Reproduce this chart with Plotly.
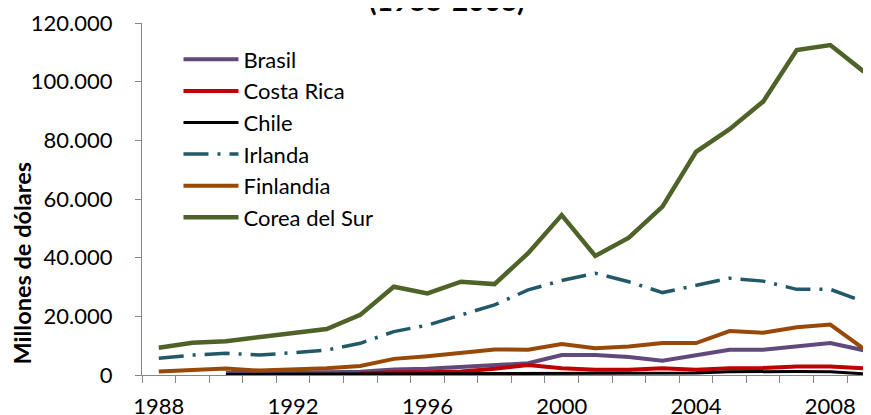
import plotly.graph_objects as go

years = list(range(1988, 2010))

brasil = [None, None, 700, 700, 800, 900, 1100, 1900, 2100, 2700, 3500, 4000,
          6800, 6800, 6100, 4900, 6700, 8600, 8600, 9700, 10900, 8400]
costa_rica = [None, None, None, None, None, None, 400, 900, 900, 1200, 2100, 3400,
              2300, 1800, 1800, 2300, 1800, 2300, 2400, 2900, 2900, 2300]
chile = [None, None, 200, 250, 300, 350, 400, 450, 450, 500, 500, 500,
         550, 550, 600, 600, 700, 1100, 1200, 1200, 1100, 400]
irlanda = [5700, 6800, 7400, 6800, 7600, 8500, 10800, 14800, 17000, 20500, 23900, 29000,
           32200, 34700, 31800, 28100, 30700, 33000, 32000, 29200, 29200, 25000]
finlandia = [1200, 1800, 2200, 1500, 1900, 2300, 3100, 5500, 6400, 7400, 8700, 8600,
             10600, 9100, 9700, 10900, 10900, 15000, 14400, 16300, 17200, 8900]
corea = [9300, 11000, 11500, 13000, 14500, 15700, 20500, 30100, 27800, 31800, 31000, 41500,
         54500, 40600, 46800, 57400, 76100, 83800, 93200, 110800, 112500, 103400]

series = [
    ("Brasil", brasil, "#604A7B", 4, "solid"),
    ("Costa Rica", costa_rica, "#C00000", 4, "solid"),
    ("Chile", chile, "#000000", 3, "solid"),
    ("Irlanda", irlanda, "#215968", 3.5, "25px,9px,3px,9px"),
    ("Finlandia", finlandia, "#984807", 4, "solid"),
    ("Corea del Sur", corea, "#4F6228", 4.5, "solid"),
]

fig = go.Figure()
for name, vals, color, width, dash in series:
    fig.add_trace(go.Scatter(
        x=years, y=vals, name=name, mode="lines",
        line=dict(color=color, width=width, dash=dash),
        legendgroup=name,
    ))

# the page body adds an 8px offset, so margins are set 8px smaller;
# the right edge runs past the window, as the source image is cropped there
fig.update_layout(
    width=871, height=415,
    margin=dict(l=134, r=0, t=15, b=48),
    plot_bgcolor="white", paper_bgcolor="white",
    separators=",.",
    font=dict(family="Lato", size=22, color="black"),
    legend=dict(x=0.0495, y=0.956, xanchor="left", yanchor="top",
                font=dict(family="Lato", size=22, color="black"),
                tracegroupgap=0, itemwidth=55, bgcolor="rgba(0,0,0,0)"),
    showlegend=True,
)

# title line that sits partly above the top edge, as in the source image
fig.add_annotation(
    text="<b>(1988-2008)</b>", xref="paper", yref="paper",
    x=(447 - 142) / 737, y=1 + 23 / 352, xanchor="center", yanchor="middle",
    showarrow=False, font=dict(family="Lato", size=28, color="black"),
)
fig.add_annotation(
    text="<b>Millones de dólares</b>", xref="paper", yref="paper",
    x=(21 - 142) / 737, y=(374.5 - 263) / 352, xanchor="center", yanchor="middle",
    textangle=-90, showarrow=False, font=dict(family="Lato", size=23.5, color="black"),
)

fig.update_xaxes(
    range=[1987.5, 2009.45],
    tickvals=[1988, 1992, 1996, 2000, 2004, 2008],
    ticks="", ticklabelstandoff=12, automargin=False,
    showline=True, linecolor="#868686", linewidth=1,
    showgrid=False, zeroline=False,
    minor=dict(tick0=1987.5, dtick=1, ticks="outside", ticklen=7, tickcolor="#868686"),
)
fig.update_yaxes(
    range=[0, 120000],
    tickvals=[0, 20000, 40000, 60000, 80000, 100000, 120000],
    tickformat=",.0f", automargin=False,
    ticks="outside", ticklen=6, tickcolor="#868686", ticklabelstandoff=18,
    showline=True, linecolor="#868686", linewidth=1,
    showgrid=False, zeroline=False,
)

fig.write_html("out.html")
